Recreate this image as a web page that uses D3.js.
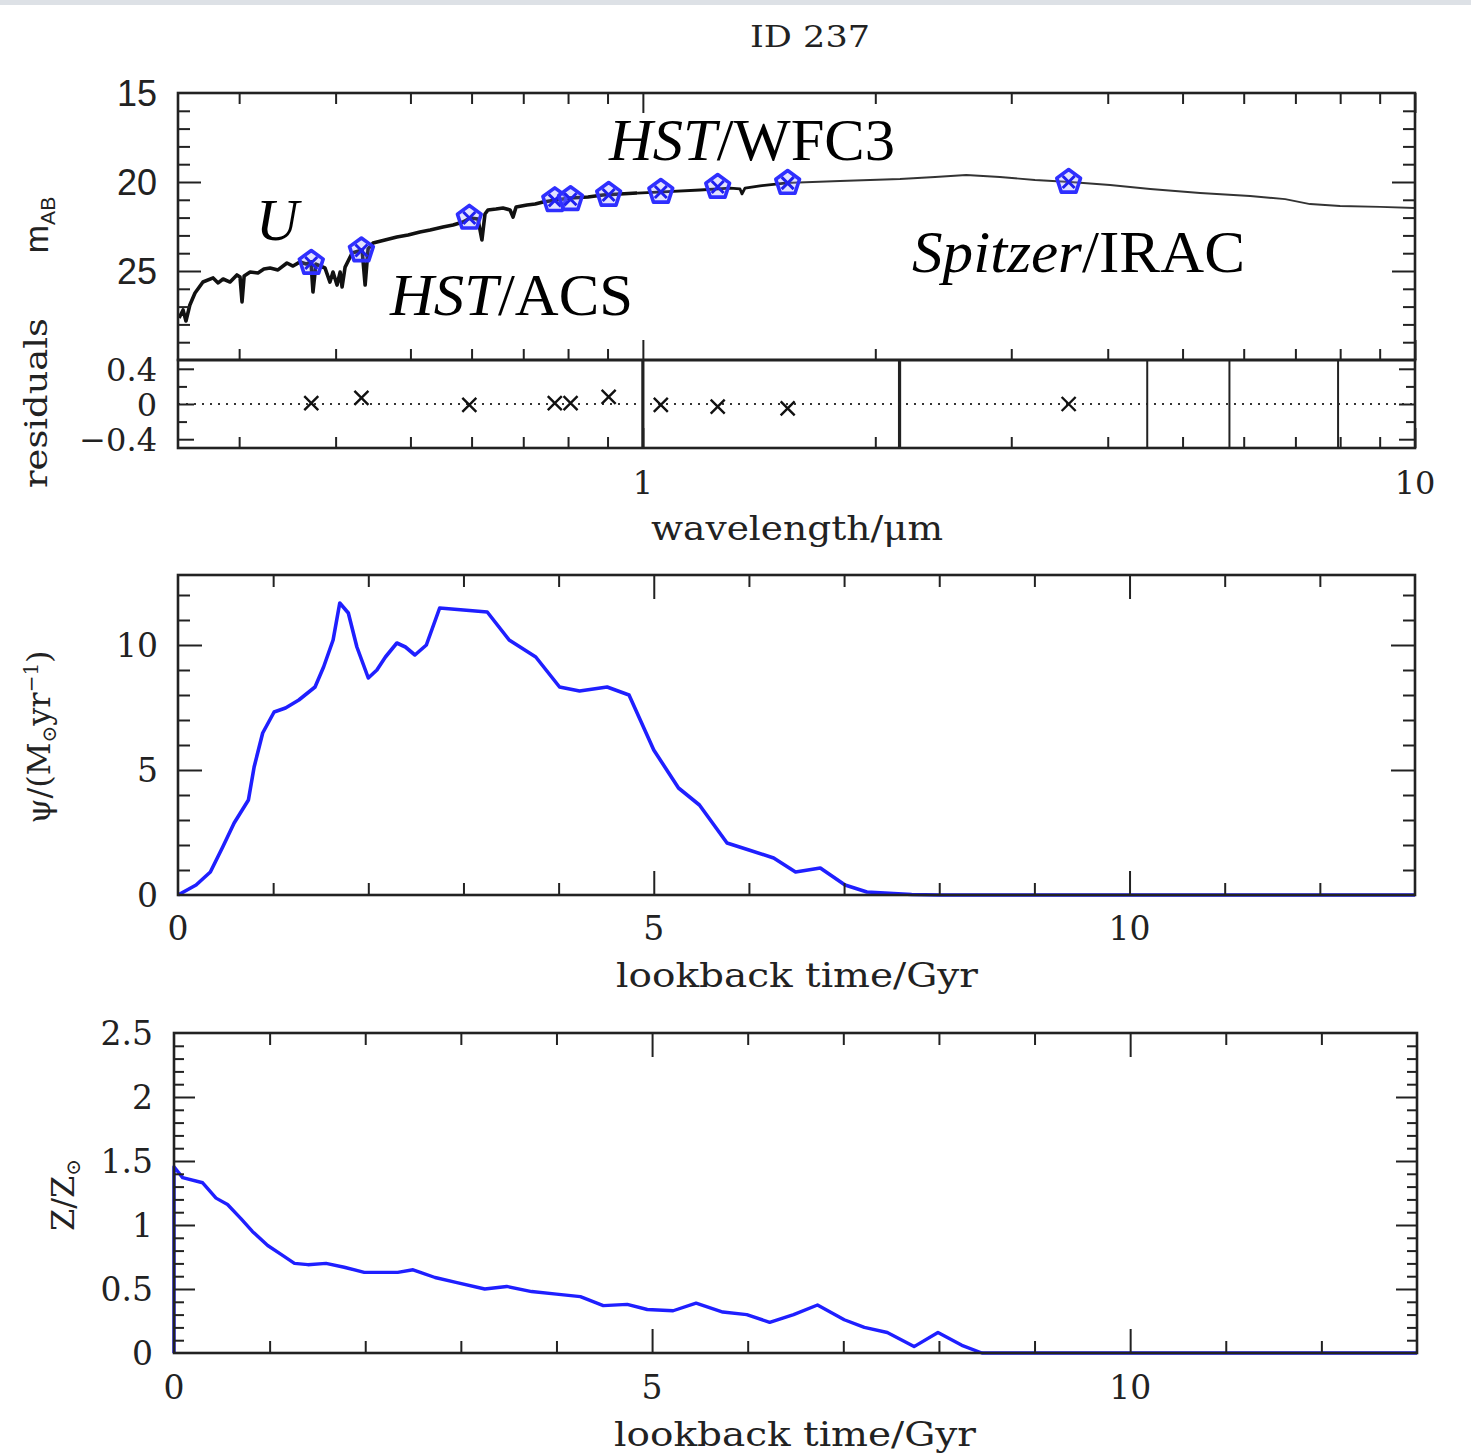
<!DOCTYPE html>
<html><head><meta charset="utf-8">
<script src="https://cdn.jsdelivr.net/npm/d3@7"></script>
<style>body{margin:0;background:#fff}svg{display:block}</style>
</head><body><svg id="c" width="1471" height="1453"></svg>
<script>
// ---------------- DATA ----------------
const title = "ID 237";
// model spectrum (wavelength in micron, AB magnitude)
const specWave = [0.2508,0.2538,0.2560,0.2590,0.2630,0.2693,0.2776,0.2818,0.2860,0.2920,0.2980,0.3008,0.3026,0.3045,0.3100,0.3173,0.3230,0.3290,0.3368,0.3460,0.3523,0.3598,0.3663,0.3717,0.3739,0.3772,0.3875,0.3933,0.3969,0.4017,0.4054,0.4078,0.4115,0.4202,0.4329,0.4368,0.4407,0.4472,0.4634,0.4802,0.4965,0.5144,0.5302,0.5510,0.5677,0.5848,0.5972,0.6115,0.6188,0.6245,0.6300,0.6453,0.6589,0.6730,0.6790,0.6852,0.7078,0.7253,0.7425,0.7720,0.8049,0.8490,0.8878,0.9340,0.9828,1.062,1.186,1.297,1.336,1.344,1.356,1.418,1.528,1.800,2.153,2.390,2.623,2.900,3.220,3.575,4.028,4.540,5.268,6.115,6.790,7.313,7.998,9.013,10.0];
const specMag  = [27.64,27.19,27.81,26.91,26.24,25.62,25.39,25.67,25.45,25.62,25.22,25.34,26.74,25.28,25.06,25.11,24.89,24.83,24.94,24.55,24.72,24.49,24.61,24.49,26.18,24.61,24.83,25.62,25.06,25.79,25.06,25.90,24.78,23.99,23.82,25.79,23.76,23.43,23.26,23.09,22.98,22.81,22.70,22.53,22.42,22.25,22.02,22.08,23.26,21.80,21.57,21.52,21.46,21.57,21.97,21.40,21.29,21.24,21.12,21.01,20.90,20.84,20.73,20.67,20.62,20.56,20.45,20.34,20.39,20.67,20.34,20.22,20.06,19.94,19.83,19.72,19.61,19.72,19.89,20.00,20.17,20.39,20.62,20.79,20.96,21.24,21.35,21.40,21.46];
// photometry
const photWave = [0.372,0.432,0.596,0.769,0.806,0.903,1.055,1.25,1.54,3.56];
const photMag  = [24.55,23.85,22.02,21.03,20.97,20.73,20.56,20.28,20.06,20.0];
const residVal = [0.01,0.07,-0.01,0.01,0.01,0.08,-0.01,-0.03,-0.05,0.0];
const residLines = [1.0,2.15,4.5,5.75,7.95];
// star formation history
const sfhTime = [0,0.19,0.34,0.47,0.59,0.74,0.80,0.89,1.01,1.13,1.27,1.44,1.53,1.63,1.70,1.79,1.88,2.00,2.09,2.18,2.30,2.39,2.49,2.61,2.75,3.00,3.25,3.48,3.76,4.01,4.22,4.51,4.74,5.00,5.26,5.48,5.77,6.00,6.26,6.49,6.75,7.01,7.24,7.71,8,9,10,11,12,13];
const sfhRate = [0.0,0.40,0.92,1.92,2.88,3.80,5.12,6.48,7.32,7.48,7.80,8.32,9.12,10.2,11.68,11.28,9.92,8.68,9.0,9.52,10.08,9.92,9.6,10.0,11.48,11.4,11.32,10.2,9.52,8.32,8.16,8.32,8.0,5.8,4.28,3.6,2.08,1.8,1.48,0.92,1.08,0.40,0.12,0.02,0,0,0,0,0,0];
// metallicity history
const zTime = [0,0,0.09,0.30,0.44,0.56,0.70,0.82,0.98,1.12,1.26,1.40,1.59,1.78,1.99,2.20,2.34,2.50,2.73,2.96,3.25,3.48,3.74,4.00,4.25,4.49,4.74,4.95,5.22,5.46,5.74,5.99,6.23,6.48,6.73,7.01,7.22,7.46,7.74,7.99,8.24,8.45,9,10,11,12,13];
const zMet  = [0,1.455,1.37,1.33,1.21,1.16,1.05,0.95,0.84,0.77,0.70,0.69,0.70,0.67,0.63,0.63,0.63,0.65,0.59,0.55,0.50,0.52,0.48,0.46,0.44,0.37,0.38,0.34,0.33,0.39,0.32,0.30,0.24,0.30,0.375,0.26,0.20,0.16,0.05,0.16,0.06,0.0,0,0,0,0,0];
// tick values / labels
const sedYTicks = [15,20,25];
const sedXLabels = [1,10];
const resYTicks = [0.4,0,-0.4];
const sfhYTicks = [0,5,10];
const timeTicks = [0,5,10];
const zYTicks = [0,0.5,1,1.5,2,2.5];

// ---------------- DRAWING ----------------
const svg = d3.select('#c');
svg.append('rect').attr('width',1471).attr('height',1453).attr('fill','#fff');
svg.append('rect').attr('width',1471).attr('height',5).attr('fill','#dde1e6');

const INK = '#222';
const SERIF = "'DejaVu Serif', serif";
const SANS = "'Liberation Sans', Arial, sans-serif";
const TIMES = "'Liberation Serif', 'Times New Roman', serif";

function tickSet(g, scale, orient, pos, values, len, w) {
  const gen = {bottom:d3.axisBottom, top:d3.axisTop, left:d3.axisLeft, right:d3.axisRight}[orient];
  const ax = gen(scale).tickValues(values).tickSize(-len).tickFormat('');
  const gg = g.append('g')
    .attr('transform', (orient==='bottom'||orient==='top') ? `translate(0,${pos})` : `translate(${pos},0)`)
    .call(ax);
  gg.select('.domain').remove();
  gg.selectAll('line').attr('stroke', INK).attr('stroke-width', w||2);
}
function box(g, x0, x1, y0, y1) {
  g.append('rect').attr('x',x0).attr('y',y0).attr('width',x1-x0).attr('height',y1-y0)
    .attr('fill','none').attr('stroke',INK).attr('stroke-width',2.6);
}
function vlabel(g, x, y, parts, size, font, len) {
  const t = g.append('text').attr('transform',`translate(${x},${y}) rotate(-90)`)
    .attr('text-anchor','middle').attr('font-family',font).attr('font-size',size).attr('fill',INK);
  parts.forEach(p => {
    const ts = t.append('tspan').text(p.t);
    if (p.s) ts.attr('font-size', size*0.62).attr('dy', p.s);
  });
  if (len) t.attr('textLength',len).attr('lengthAdjust','spacingAndGlyphs');
  return t;
}

// ----- title
svg.append('text').attr('x',810).attr('y',47).attr('text-anchor','middle')
  .attr('font-family',SERIF).attr('font-size',30).attr('fill',INK)
  .attr('textLength',120).attr('lengthAdjust','spacingAndGlyphs').text(title);

// ----- SED panel
const xL = 178, xR = 1415;
const x = d3.scaleLog().domain([0.25,10]).range([xL,xR]);
const ySed = d3.scaleLinear().domain([15,30]).range([93,360]);
const yRes = d3.scaleLinear().domain([-0.5,0.5]).range([448,360]);
const sed = svg.append('g');

const minorX = [0.3,0.4,0.5,0.6,0.7,0.8,0.9,2,3,4,5,6,7,8,9];
const majorX = [1,10];
const sedMinorY = d3.range(16,30).filter(v => v%5!==0);
// spectrum
const spec = specWave.map((w,i)=>({w, m:specMag[i]}));
const line = d3.line().x(d=>x(d.w)).y(d=>ySed(d.m));
sed.append('path').datum(spec.filter(d=>d.w<=1.0)).attr('d',line)
  .attr('fill','none').attr('stroke','#111').attr('stroke-width',3.6).attr('stroke-linejoin','round');
sed.append('path').datum(spec.filter(d=>d.w>=0.98 && d.w<=1.53)).attr('d',line)
  .attr('fill','none').attr('stroke','#111').attr('stroke-width',2.8).attr('stroke-linejoin','round');
sed.append('path').datum(spec.filter(d=>d.w>=1.5)).attr('d',line)
  .attr('fill','none').attr('stroke','#333').attr('stroke-width',1.9).attr('stroke-linejoin','round');

// photometric markers
const phot = photWave.map((w,i)=>({w, m:photMag[i], r:residVal[i]}));
const R = 12.5;
const pent = d3.range(5).map(k => [R*Math.cos(-Math.PI/2+k*2*Math.PI/5), R*Math.sin(-Math.PI/2+k*2*Math.PI/5)]);
const mk = sed.selectAll('g.mk').data(phot).join('g').attr('class','mk')
  .attr('transform', d=>`translate(${x(d.w)},${ySed(d.m)})`);
mk.append('path').attr('d', 'M'+pent.map(p=>p.join(',')).join('L')+'Z')
  .attr('fill','rgba(140,140,255,0.25)').attr('stroke','#2f2fff').attr('stroke-width',3.6).attr('stroke-linejoin','round');
mk.append('path').attr('d','M-6,-6L6,6M-6,6L6,-6').attr('stroke','#2020f0').attr('stroke-width',3);

// frame & ticks of SED
box(sed, xL, xR, 93, 360);
tickSet(sed, x, 'top', 93, minorX, 11);
tickSet(sed, x, 'top', 93, majorX, 20);
tickSet(sed, x, 'bottom', 360, minorX, 11);
tickSet(sed, x, 'bottom', 360, majorX, 20);
tickSet(sed, ySed, 'left', xL, sedMinorY, 12);
tickSet(sed, ySed, 'left', xL, [20,25], 23);
tickSet(sed, ySed, 'right', xR, sedMinorY, 12);
tickSet(sed, ySed, 'right', xR, [20,25], 23);
sed.selectAll('text.yt').data(sedYTicks).join('text').attr('class','yt')
  .attr('x',157).attr('y',d=>ySed(d)+13).attr('text-anchor','end')
  .attr('font-family',SANS).attr('font-size',36).attr('fill',INK).text(d=>d);
vlabel(sed, 48, 225, [{t:'m'},{t:'AB', s:7}], 34, SANS);

// annotations
function annot(x0, y0, it, rest, len) {
  const t = sed.append('text').attr('x',x0).attr('y',y0).attr('font-family',TIMES)
    .attr('font-size',59).attr('fill','#000');
  t.append('tspan').attr('font-style','italic').text(it);
  if (rest) t.append('tspan').text(rest);
  if (len) t.attr('textLength',len).attr('lengthAdjust','spacingAndGlyphs');
}
annot(256, 240, 'U', null);
annot(609, 160, 'HST', '/WFC3', 286);
annot(390, 315, 'HST', '/ACS', 243);
annot(912, 272, 'Spitzer', '/IRAC', 333);

// ----- residual panel
const res = svg.append('g');
res.append('line').attr('x1',xL).attr('x2',xR).attr('y1',yRes(0)).attr('y2',yRes(0))
  .attr('stroke','#333').attr('stroke-width',2).attr('stroke-dasharray','2,6');
res.selectAll('line.rl').data(residLines).join('line').attr('class','rl')
  .attr('x1',d=>x(d)).attr('x2',d=>x(d)).attr('y1',yRes(0.5)).attr('y2',yRes(-0.5))
  .attr('stroke',INK).attr('stroke-width',(d,i)=>i<2?3.2:2);
res.selectAll('path.cr').data(phot).join('path').attr('class','cr')
  .attr('transform',d=>`translate(${x(d.w)},${yRes(d.r)})`)
  .attr('d','M-7,-7L7,7M-7,7L7,-7').attr('stroke','#111').attr('stroke-width',2.4);
box(res, xL, xR, 360, 448);
tickSet(res, x, 'bottom', 448, minorX, 11);
tickSet(res, x, 'bottom', 448, majorX, 20);
tickSet(res, yRes, 'left', xL, [0.2,-0.2], 9);
tickSet(res, yRes, 'left', xL, [0.4,0,-0.4], 16);
tickSet(res, yRes, 'right', xR, [0.2,-0.2], 9);
tickSet(res, yRes, 'right', xR, [0.4,0,-0.4], 16);
res.selectAll('text.yt').data(resYTicks).join('text').attr('class','yt')
  .attr('x',157).attr('y',d=>yRes(d)+12).attr('text-anchor','end')
  .attr('font-family',SERIF).attr('font-size',32).attr('fill',INK).text(d=>d<0?'\u2212'+(-d):d);
res.selectAll('text.xt').data(sedXLabels).join('text').attr('class','xt')
  .attr('x',d=>x(d)).attr('y',494).attr('text-anchor','middle')
  .attr('font-family',SERIF).attr('font-size',32).attr('fill',INK).text(d=>d);
vlabel(res, 47, 403, [{t:'residuals'}], 32, SERIF, 170);
res.append('text').attr('x',797).attr('y',540).attr('text-anchor','middle')
  .attr('font-family',SERIF).attr('font-size',33).attr('fill',INK)
  .attr('textLength',292).attr('lengthAdjust','spacingAndGlyphs').text('wavelength/\u03bcm');

// ----- SFH panel
const xT1 = d3.scaleLinear().domain([0,13]).range([178,1415]);
const ySfh = d3.scaleLinear().domain([0,12.8]).range([895,575]);
const sfh = svg.append('g');
const minorT = d3.range(1,13).filter(v=>v%5!==0);
sfh.append('path').datum(sfhTime.map((t,i)=>[t,sfhRate[i]]))
  .attr('d', d3.line().x(d=>xT1(d[0])).y(d=>ySfh(d[1])))
  .attr('fill','none').attr('stroke','#1f1fff').attr('stroke-width',3.6).attr('stroke-linejoin','round');
box(sfh, 178, 1415, 575, 895);
tickSet(sfh, xT1, 'bottom', 895, minorT, 12);
tickSet(sfh, xT1, 'bottom', 895, [5,10], 24);
tickSet(sfh, xT1, 'top', 575, minorT, 12);
tickSet(sfh, xT1, 'top', 575, [5,10], 24);
const sfhMinorY = d3.range(1,13).filter(v=>v%5!==0);
tickSet(sfh, ySfh, 'left', 178, sfhMinorY, 12);
tickSet(sfh, ySfh, 'left', 178, [5,10], 24);
tickSet(sfh, ySfh, 'right', 1415, sfhMinorY, 12);
tickSet(sfh, ySfh, 'right', 1415, [5,10], 24);
sfh.selectAll('text.yt').data(sfhYTicks).join('text').attr('class','yt')
  .attr('x',158).attr('y',d=>ySfh(d)+12).attr('text-anchor','end')
  .attr('font-family',SERIF).attr('font-size',33).attr('fill',INK).text(d=>d);
sfh.selectAll('text.xt').data(timeTicks).join('text').attr('class','xt')
  .attr('x',d=>xT1(d)).attr('y',940).attr('text-anchor','middle')
  .attr('font-family',SERIF).attr('font-size',33).attr('fill',INK).text(d=>d);
sfh.append('text').attr('x',797).attr('y',987).attr('text-anchor','middle')
  .attr('font-family',SERIF).attr('font-size',33).attr('fill',INK)
  .attr('textLength',362).attr('lengthAdjust','spacingAndGlyphs').text('lookback time/Gyr');
{
  const t = sfh.append('text').attr('transform','translate(50,737) rotate(-90)')
    .attr('text-anchor','middle').attr('font-family',SERIF).attr('font-size',32).attr('fill',INK);
  t.append('tspan').text('\u03c8/(M');
  t.append('tspan').attr('font-size',20).attr('dy',6).text('\u2299');
  t.append('tspan').attr('dy',-6).text('yr');
  t.append('tspan').attr('font-size',20).attr('dy',-12).text('\u22121');
  t.append('tspan').attr('dy',12).text(')');
}

// ----- metallicity panel
const xT2 = d3.scaleLinear().domain([0,13]).range([174,1417]);
const yZ = d3.scaleLinear().domain([0,2.5]).range([1353,1033]);
const zp = svg.append('g');
zp.append('path').datum(zTime.map((t,i)=>[t,zMet[i]]))
  .attr('d', d3.line().x(d=>xT2(d[0])).y(d=>yZ(d[1])))
  .attr('fill','none').attr('stroke','#1f1fff').attr('stroke-width',3.4).attr('stroke-linejoin','round');
box(zp, 174, 1417, 1033, 1353);
tickSet(zp, xT2, 'bottom', 1353, minorT, 12);
tickSet(zp, xT2, 'bottom', 1353, [5,10], 24);
tickSet(zp, xT2, 'top', 1033, minorT, 12);
tickSet(zp, xT2, 'top', 1033, [5,10], 24);
const zMinor = d3.range(1,25).map(v=>v/10).filter(v=>Math.abs(v*2-Math.round(v*2))>0.01);
tickSet(zp, yZ, 'left', 174, zMinor, 10);
tickSet(zp, yZ, 'left', 174, [0.5,1,1.5,2], 21);
tickSet(zp, yZ, 'right', 1417, zMinor, 10);
tickSet(zp, yZ, 'right', 1417, [0.5,1,1.5,2], 21);
zp.selectAll('text.yt').data(zYTicks).join('text').attr('class','yt')
  .attr('x',153).attr('y',d=>yZ(d)+12).attr('text-anchor','end')
  .attr('font-family',SERIF).attr('font-size',33).attr('fill',INK).text(d=>d);
zp.selectAll('text.xt').data(timeTicks).join('text').attr('class','xt')
  .attr('x',d=>xT2(d)).attr('y',1399).attr('text-anchor','middle')
  .attr('font-family',SERIF).attr('font-size',33).attr('fill',INK).text(d=>d);
zp.append('text').attr('x',795).attr('y',1446).attr('text-anchor','middle')
  .attr('font-family',SERIF).attr('font-size',33).attr('fill',INK)
  .attr('textLength',362).attr('lengthAdjust','spacingAndGlyphs').text('lookback time/Gyr');
{
  const t = zp.append('text').attr('transform','translate(74,1195) rotate(-90)')
    .attr('text-anchor','middle').attr('font-family',SERIF).attr('font-size',32).attr('fill',INK);
  t.append('tspan').text('Z/Z');
  t.append('tspan').attr('font-size',20).attr('dy',6).text('\u2299');
}
</script></body></html>
